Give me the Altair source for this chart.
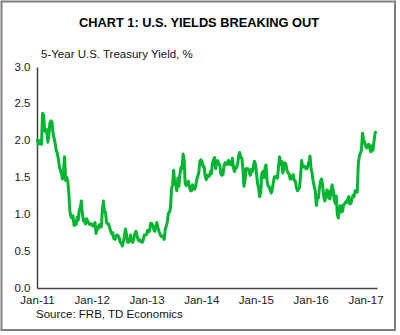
import altair as alt
import pandas as pd

# Weekly readings of the 5-year U.S. Treasury yield (%), starting Monday 2011-01-03
y2011 = [2.02, 1.95, 2.00, 1.97,
         1.95, 2.37, 2.35, 2.14, 2.12,
         2.15, 1.98, 2.07, 2.24,
         2.27, 2.25, 2.10, 2.03,
         1.97, 1.87, 1.83, 1.76, 1.65,
         1.60, 1.55, 1.48, 1.58,
         1.78, 1.46, 1.50, 1.45,
         1.30, 1.05, 0.97, 0.95, 0.98,
         0.85, 0.90, 0.86, 0.96,
         0.92, 1.06, 1.09, 1.18, 1.00,
         0.91, 0.93, 0.87, 0.94,
         0.91, 0.88, 0.86, 0.87]
y2012 = [0.87, 0.84, 0.84, 0.89, 0.74,
         0.82, 0.80, 0.86, 0.86,
         0.83, 1.05, 1.18, 1.04,
         1.03, 0.89, 0.87, 0.87, 0.82,
         0.77, 0.73, 0.75, 0.67,
         0.66, 0.70, 0.72, 0.71,
         0.68, 0.62, 0.62, 0.57, 0.62,
         0.70, 0.80, 0.73, 0.62,
         0.62, 0.65, 0.72, 0.64,
         0.62, 0.67, 0.74, 0.77, 0.72,
         0.66, 0.64, 0.65, 0.63,
         0.62, 0.65, 0.72, 0.72, 0.72]
y2013 = [0.78, 0.76, 0.77, 0.88,
         0.88, 0.85, 0.80, 0.77,
         0.84, 0.89, 0.82, 0.77,
         0.73, 0.70, 0.71, 0.70, 0.66,
         0.80, 0.84, 0.90, 1.02,
         1.03, 1.09, 1.35, 1.40,
         1.60, 1.43, 1.40, 1.32, 1.49,
         1.38, 1.55, 1.64, 1.62,
         1.82, 1.73, 1.42, 1.39, 1.40,
         1.45, 1.38, 1.32, 1.32,
         1.40, 1.37, 1.34, 1.38,
         1.47, 1.52, 1.57, 1.72, 1.74]
y2014 = [1.72, 1.65, 1.65, 1.52,
         1.47, 1.53, 1.51, 1.52,
         1.58, 1.55, 1.70, 1.74, 1.77,
         1.62, 1.70, 1.73, 1.69,
         1.66, 1.55, 1.53, 1.54,
         1.66, 1.70, 1.68, 1.68, 1.73,
         1.68, 1.72, 1.67, 1.76,
         1.63, 1.58, 1.64, 1.63,
         1.69, 1.80, 1.84, 1.77, 1.76,
         1.62, 1.38, 1.46, 1.62,
         1.62, 1.62, 1.58, 1.53,
         1.61, 1.58, 1.65, 1.72, 1.68]
y2015 = [1.55, 1.42, 1.35, 1.24,
         1.30, 1.55, 1.58, 1.50,
         1.62, 1.67, 1.46, 1.38, 1.38,
         1.33, 1.29, 1.34, 1.43,
         1.51, 1.50, 1.52, 1.49,
         1.65, 1.78, 1.68, 1.72, 1.56,
         1.62, 1.70, 1.68, 1.60,
         1.56, 1.55, 1.48, 1.48, 1.52,
         1.54, 1.46, 1.45, 1.37,
         1.32, 1.34, 1.37, 1.53,
         1.73, 1.64, 1.66, 1.65, 1.62,
         1.62, 1.66, 1.71, 1.79]
y2016 = [1.62, 1.55, 1.45, 1.38,
         1.32, 1.12, 1.22, 1.22, 1.36,
         1.45, 1.48, 1.39, 1.25,
         1.18, 1.23, 1.33, 1.32,
         1.22, 1.21, 1.31, 1.40, 1.33,
         1.21, 1.15, 1.25, 1.00,
         0.95, 1.09, 1.12, 1.03,
         1.04, 1.13, 1.14, 1.17, 1.16,
         1.21, 1.24, 1.14, 1.15,
         1.21, 1.26, 1.24, 1.32, 1.31,
         1.30, 1.68, 1.79, 1.83,
         1.87, 2.10, 2.02, 1.98]
y2017 = [1.93, 1.90, 1.94, 1.95, 1.90, 1.85, 1.93, 1.87, 1.99, 2.10, 2.13]

values = y2011 + y2012 + y2013 + y2014 + y2015 + y2016 + y2017
dates = pd.date_range("2011-01-03", periods=len(values), freq="7D")
df = pd.DataFrame({"date": dates.strftime("%Y-%m-%d"), "yield": values})

tick_years = [2011, 2012, 2013, 2014, 2015, 2016, 2017]
y_ticks = [0.0, 0.5, 1.0, 1.5, 2.0, 2.5, 3.0]

title_text = "CHART 1: U.S. YIELDS BREAKING OUT"
subtitle_text = "5-Year U.S. Treasury Yield, %"
source_text = "Source: FRB, TD Economics"

FONT = "Liberation Sans"
W, H = 340, 221

line = alt.Chart(df).mark_line(color="#00B530", strokeWidth=3, strokeJoin="round").encode(
    x=alt.X("date:T",
            scale=alt.Scale(domain=[alt.DateTime(year=2011, month=1, date=1),
                                    alt.DateTime(year=2017, month=3, date=19)]),
            axis=alt.Axis(title=None, format="%b-%y", ticks=False, grid=False,
                          values=[alt.DateTime(year=yy, month=1, date=1) for yy in tick_years],
                          labelPadding=6, labelFlush=False)),
    y=alt.Y("yield:Q", scale=alt.Scale(domain=[0, 3], nice=False),
            axis=alt.Axis(title=None, format=".1f", values=y_ticks, ticks=False, grid=False,
                          labelPadding=7)),
)

one = alt.Data(values=[{"a": 1}])

title = alt.Chart(one).mark_text(font=FONT, fontSize=12.8, fontWeight="bold", color="#000000",
                                 align="center", baseline="alphabetic").encode(
    x=alt.value(162), y=alt.value(-40.3), text=alt.value(title_text))

subtitle = alt.Chart(one).mark_text(font=FONT, fontSize=11.5, color="#111111",
                                    align="left", baseline="alphabetic").encode(
    x=alt.value(4), y=alt.value(-8.7), text=alt.value(subtitle_text))

source = alt.Chart(one).mark_text(font=FONT, fontSize=11.5, color="#111111",
                                  align="left", baseline="alphabetic").encode(
    x=alt.value(-1), y=alt.value(29.5 + H), text=alt.value(source_text))

border = alt.Chart(one).mark_rect(fillOpacity=0, stroke="#7F7F7F", strokeWidth=2).encode(
    x=alt.value(-35.5), x2=alt.value(358), y=alt.value(-65.5), y2=alt.value(263))

chart = alt.layer(line, title, subtitle, source, border).properties(
    width=W, height=H,
    autosize=alt.AutoSizeParams(type="none"),
    padding={"left": 37, "top": 67, "right": 23, "bottom": 47},
    background="#FFFFFF",
).configure_view(strokeWidth=0).configure_axis(
    domainColor="#404040", domainWidth=1.5, labelFont=FONT, labelFontSize=11.5,
    labelColor="#1a1a1a",
)

chart.save("out.html", embed_options={"renderer": "svg", "actions": False})
